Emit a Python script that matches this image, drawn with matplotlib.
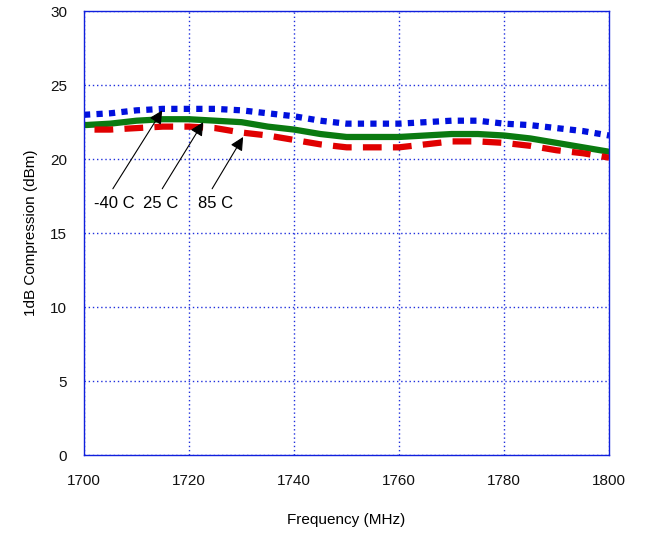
import matplotlib
matplotlib.use("Agg")
import matplotlib.pyplot as plt

plt.rcParams['font.family'] = ['Liberation Sans', 'DejaVu Sans']

freq_blue = [1700, 1705, 1710, 1715, 1720, 1725, 1730, 1735, 1740, 1745, 1750, 1755, 1760, 1765, 1770, 1775, 1780, 1785, 1790, 1795, 1800]
m40 = [23.0, 23.1, 23.3, 23.4, 23.4, 23.4, 23.3, 23.1, 22.9, 22.6, 22.4, 22.4, 22.4, 22.5, 22.6, 22.6, 22.4, 22.3, 22.1, 21.9, 21.6]
freq_green = [1700, 1705, 1710, 1715, 1720, 1725, 1730, 1735, 1740, 1745, 1750, 1755, 1760, 1765, 1770, 1775, 1780, 1785, 1790, 1795, 1800]
p25 = [22.3, 22.4, 22.6, 22.7, 22.7, 22.6, 22.5, 22.2, 22.0, 21.7, 21.5, 21.5, 21.5, 21.6, 21.7, 21.7, 21.6, 21.4, 21.1, 20.8, 20.5]
freq_red = [1702, 1705, 1710, 1715, 1720, 1725, 1730, 1735, 1740, 1745, 1750, 1755, 1760, 1765, 1770, 1775, 1780, 1785, 1790, 1795, 1800]
p85 = [22.0, 22.0, 22.1, 22.2, 22.2, 22.1, 21.8, 21.6, 21.3, 21.0, 20.8, 20.8, 20.8, 21.0, 21.2, 21.2, 21.1, 20.9, 20.6, 20.4, 20.1]

labels = ['-40 C', '25 C', '85 C']
arrow_tips = [(1714.9, 23.3), (1722.7, 22.5), (1730.3, 21.5)]
arrow_tails = [(1705.5, 18.0), (1714.9, 18.0), (1724.4, 18.0)]
text_pos = [(1705.7, 17.0), (1714.6, 17.0), (1725.1, 17.0)]

fig = plt.figure(figsize=(6.46, 5.35), dpi=100)
ax = fig.add_axes([0.130, 0.1495, 0.813, 0.8295])

ax.plot(freq_blue, m40, color='#0010dd', lw=4.5, linestyle=(0, (1.0, 1.0)), solid_capstyle='butt')
ax.plot(freq_green, p25, color='#0a7a10', lw=4.5, linestyle='-')
ax.plot(freq_red, p85, color='#e00000', lw=4.5, linestyle=(0, (3.0, 1.8)))

for lab, tip, tail, tp in zip(labels, arrow_tips, arrow_tails, text_pos):
    ax.annotate('', xy=tip, xytext=tail,
                arrowprops=dict(arrowstyle='-|>', color='black', lw=0.8, mutation_scale=20,
                                shrinkA=0, shrinkB=0))
    ax.text(tp[0], tp[1], lab, ha='center', va='center', fontsize=12)

ax.set_xlim(1700, 1800)
ax.set_ylim(0, 30)
ax.set_xticks([1700, 1720, 1740, 1760, 1780, 1800])
ax.set_yticks([0, 5, 10, 15, 20, 25, 30])
ax.grid(True, color='#2030dd', linestyle=(0, (1.0, 2.0)), lw=1.0)
for s in ax.spines.values():
    s.set_color('#1020dd')
    s.set_linewidth(1.0)
ax.tick_params(axis='both', labelsize=11, colors='#1020dd', labelcolor='#111111', length=0, pad=12)
ax.tick_params(axis='x', pad=14)
ax.set_xlabel('Frequency (MHz)', fontsize=11, labelpad=18)
ax.set_ylabel('1dB Compression (dBm)', fontsize=11, labelpad=9)

fig.savefig('out.png', dpi=100)
